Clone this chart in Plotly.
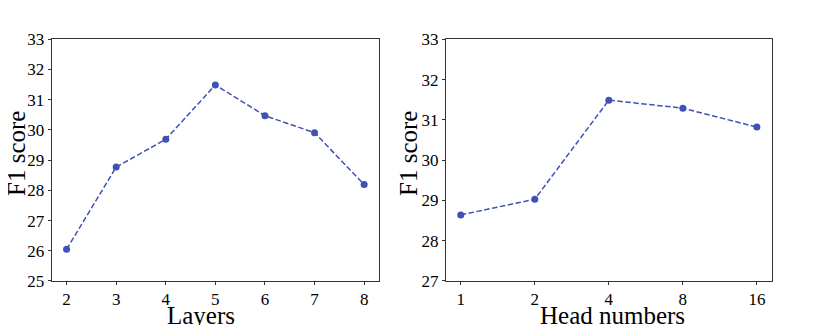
import plotly.graph_objects as go
from plotly.subplots import make_subplots

# data
layers = [2, 3, 4, 5, 6, 7, 8]
layers_f1 = [26.05, 28.77, 29.69, 31.49, 30.47, 29.91, 28.19]

heads = ["1", "2", "4", "8", "16"]
heads_f1 = [28.64, 29.03, 31.49, 31.29, 30.82]

BLUE = "#3f51b5"
FONT = "Liberation Serif"
DASH = "5.5px,2.5px"

fig = make_subplots(rows=1, cols=2)

fig.add_trace(
    go.Scatter(
        x=layers, y=layers_f1, mode="lines+markers",
        line=dict(color=BLUE, width=1.5, dash=DASH),
        marker=dict(color=BLUE, size=7),
        showlegend=False,
    ),
    row=1, col=1,
)
fig.add_trace(
    go.Scatter(
        x=heads, y=heads_f1, mode="lines+markers",
        line=dict(color=BLUE, width=1.5, dash=DASH),
        marker=dict(color=BLUE, size=7),
        showlegend=False,
    ),
    row=1, col=2,
)

axis_style = dict(
    showline=True, linecolor="#333", linewidth=1, mirror=True,
    ticks="outside", ticklen=3, tickcolor="#333",
    showgrid=False, zeroline=False, automargin=False,
    tickfont=dict(family=FONT, size=17, color="black"),
)

fig.update_xaxes(axis_style)
fig.update_yaxes(axis_style)

# the page body adds an 8px offset, domains are shifted to compensate
fig.update_xaxes(domain=[0.0537, 0.4558], range=[1.7, 8.3], dtick=1, row=1, col=1)
fig.update_xaxes(domain=[0.538, 0.9382], type="category", range=[-0.2, 4.2], row=1, col=2)
fig.update_yaxes(domain=[0.1802, 0.906], range=[25, 33], dtick=1, row=1, col=1)
fig.update_yaxes(domain=[0.1802, 0.906], range=[27, 33], dtick=1, row=1, col=2)

# axis titles as annotations (plotly's own titles collide without automargin)
title_font = dict(family=FONT, size=25, color="black")
titles = [
    ("Layers", 0.2371, 0.0781, 0),
    ("Head numbers", 0.7432, 0.0781, 0),
    ("F1 score", 0.0110, 0.5646, -90),
    ("F1 score", 0.4914, 0.5646, -90),
]
for text, x, y, angle in titles:
    fig.add_annotation(
        text=text, x=x, y=y, xref="paper", yref="paper",
        xanchor="center", yanchor="middle", textangle=angle,
        height=20, valign="middle",
        showarrow=False, font=title_font,
    )

fig.update_layout(
    width=814, height=333,
    margin=dict(l=0, r=0, t=0, b=0),
    plot_bgcolor="white", paper_bgcolor="white",
    font=dict(family=FONT, color="black"),
)

fig.write_html("out.html")
